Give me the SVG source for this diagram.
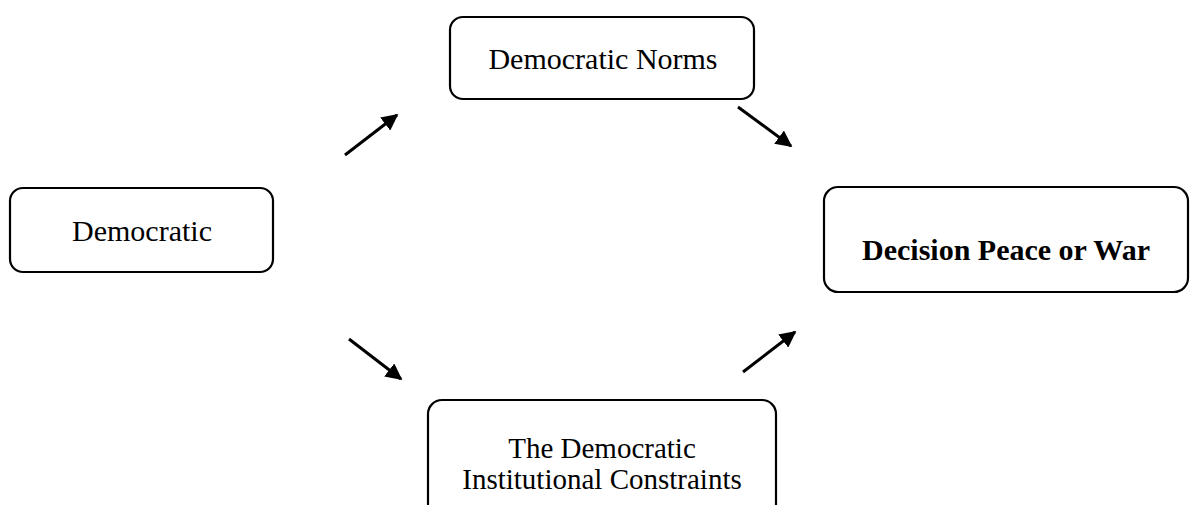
<svg xmlns="http://www.w3.org/2000/svg" width="1190" height="505" viewBox="0 0 1190 505">
  <defs>
    <marker id="head" viewBox="0 0 10 10" refX="9" refY="5" markerWidth="5.5" markerHeight="5.5" markerUnits="strokeWidth" orient="auto">
      <path d="M0,0 L10,5 L0,10 Z" fill="#000"/>
    </marker>
    <style>
      .box { fill: #fff; stroke: #000; stroke-width: 2.2; }
      .lbl { font-family: "Liberation Serif", "Times New Roman", serif; font-size: 30px; fill: #000; text-anchor: middle; }
      .small { font-size: 29px; }
      .bold { font-weight: bold; }
      .arrow { stroke: #000; stroke-width: 3; fill: none; marker-end: url(#head); }
    </style>
  </defs>
  <rect width="1190" height="505" fill="#fff"/>

  <g id="node-democratic">
    <rect class="box" x="10" y="188" width="263" height="84" rx="13"/>
    <text class="lbl" x="142" y="241">Democratic</text>
  </g>

  <g id="node-norms">
    <rect class="box" x="450" y="17" width="304" height="82" rx="13"/>
    <text class="lbl" x="603" y="69">Democratic Norms</text>
  </g>

  <g id="node-decision">
    <rect class="box" x="824" y="187" width="364" height="105" rx="14"/>
    <text class="lbl bold" x="1006" y="260">Decision Peace or War</text>
  </g>

  <g id="node-constraints">
    <rect class="box" x="428" y="400" width="348" height="120" rx="14"/>
    <text class="lbl small" x="602" y="458">The Democratic</text>
    <text class="lbl small" x="602" y="489">Institutional Constraints</text>
  </g>

  <g id="connectors">
    <line class="arrow" x1="345" y1="155" x2="397" y2="115"/>
    <line class="arrow" x1="738" y1="107" x2="791" y2="146"/>
    <line class="arrow" x1="349" y1="339" x2="401" y2="379"/>
    <line class="arrow" x1="743" y1="372" x2="795" y2="332"/>
  </g>
</svg>
